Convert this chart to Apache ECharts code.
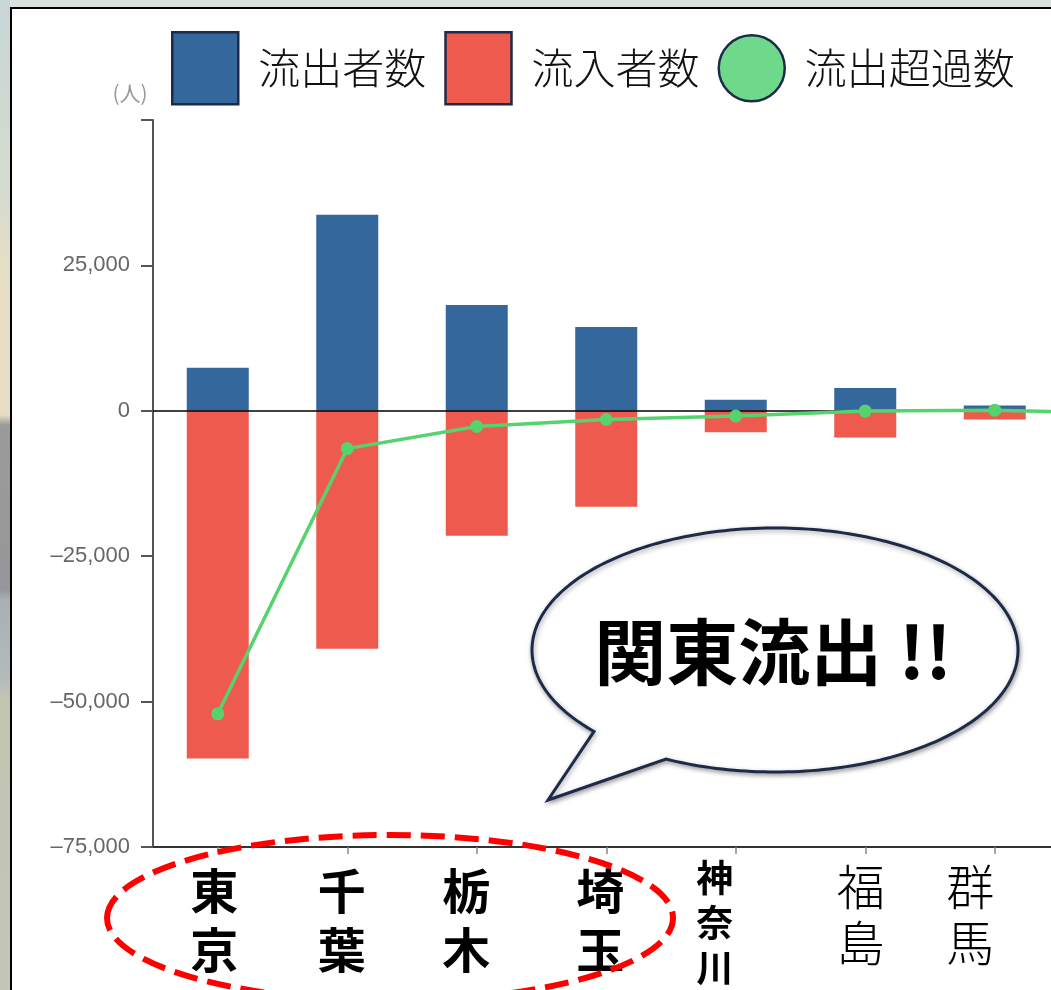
<!DOCTYPE html>
<html><head><meta charset="utf-8">
<script src="https://cdn.jsdelivr.net/npm/echarts@6/dist/echarts.min.js"></script>
<style>
html,body{margin:0;padding:0;width:1051px;height:990px;overflow:hidden;position:relative;}
#bg{position:absolute;left:0;top:0;width:1051px;height:990px;background:#d8e0df;}
#strip{position:absolute;left:0;top:0;width:10px;height:990px;background:linear-gradient(to bottom,#c8d6d6 0px,#d6dccf 200px,#e5dec6 260px,#e6dec4 415px,#9a9b99 425px,#96979a 590px,#a8b0b2 600px,#b4bbbb 680px,#c3c5b3 700px,#c4c6b6 990px);}
#panel{position:absolute;left:10px;top:7px;width:1041px;height:983px;background:#fff;border-left:2px solid #000;border-top:2px solid #000;box-sizing:border-box;}
#chart{position:absolute;left:0;top:0;width:1200px;height:990px;}
</style></head>
<body>
<div id="bg"></div><div id="strip"></div><div id="panel"></div>
<div id="chart"></div>
<script>
// ---- data ----
const categories = ['東京', '千葉', '栃木', '埼玉', '神奈川', '福島', '群馬', ''];
const outflow = [7400, 33700, 18200, 14400, 1900, 3900, 900, null];
const inflow = [-59800, -40900, -21500, -16500, -3700, -4600, -1500, null];
const netOutflow = [-52100, -6500, -2700, -1500, -900, -50, 100, -400];
const seriesNames = ['流出者数', '流入者数', '流出超過数'];
const yMin = -75000, yMax = 50000, yStep = 25000;
const yUnit = '(人)';
const calloutText = '関東流出 !!';

// ---- styles ----
const CJK = '"Noto Sans CJK JP", "Noto Sans", sans-serif';
const BLUE = '#34679b', RED = '#ee5b4e', GREEN = '#56d26e', NAVY = '#1d2b4b';
const labelStyles = {
  '東京': {fontSize: 48, fontWeight: 'bold', lineHeight: 58.5, padding: [7, 7, 0, 0]},
  '千葉': {fontSize: 48, fontWeight: 'bold', lineHeight: 58.5, padding: [7, 11, 0, 0]},
  '栃木': {fontSize: 48, fontWeight: 'bold', lineHeight: 58.5, padding: [7, 21, 0, 0]},
  '埼玉': {fontSize: 48, fontWeight: 'bold', lineHeight: 58.5, padding: [7, 12, 0, 0]},
  '神奈川': {fontSize: 37, fontWeight: 'bold', lineHeight: 45, padding: [0, 42, 0, 0]},
  '福島': {fontSize: 48, fontWeight: 300, lineHeight: 56, padding: [4, 9, 0, 0]},
  '群馬': {fontSize: 48, fontWeight: 300, lineHeight: 56, padding: [4, 49, 0, 0]},
  '': {fontSize: 48}
};

// speech bubble outline (annotation shape)
function bubblePoints(cx, cy, rx, ry, aStart, aEnd, tip) {
  const pts = [];
  const n = 240;
  for (let i = 0; i <= n; i++) {
    const a = aStart + (aEnd - aStart) * i / n;
    pts.push([cx + rx * Math.cos(a), cy + ry * Math.sin(a)]);
  }
  pts.push(tip);
  return pts;
}
const bcx = 775, bcy = 650, brx = 243, bry = 122;
const aR = Math.atan2(108 / bry, -108 / brx);
const aL = Math.atan2(81 / bry, -180 / brx) - 2 * Math.PI;

const chart = echarts.init(document.getElementById('chart'), null, {renderer: 'canvas'});
chart.setOption({
  backgroundColor: 'transparent',
  animation: false,
  legend: {
    left: 166, top: 26,
    itemWidth: 66, itemHeight: 72, itemGap: 18,
    selectedMode: false,
    textStyle: {fontFamily: CJK, fontSize: 42, color: '#111', fontWeight: 300, padding: [0, 0, 0, 15]},
    data: [
      {name: seriesNames[0], icon: 'rect', itemStyle: {color: BLUE, borderColor: NAVY, borderWidth: 2.5}},
      {name: seriesNames[1], icon: 'rect', itemStyle: {color: RED, borderColor: NAVY, borderWidth: 2.5}},
      {name: seriesNames[2], icon: 'circle', itemStyle: {color: '#6fd98b', borderColor: NAVY, borderWidth: 2.5}}
    ]
  },
  grid: {left: 153, top: 120, bottom: 142, width: 1036, containLabel: false},
  xAxis: {
    type: 'category',
    data: categories.map(c => ({value: c, textStyle: Object.assign({fontFamily: CJK, color: '#000'}, labelStyles[c])})),
    axisLine: {onZero: false, lineStyle: {color: '#333', width: 2}},
    axisTick: {show: true, alignWithLabel: true, length: 7, lineStyle: {color: '#888', width: 1.5}},
    axisLabel: {margin: 8, interval: 0, formatter: v => v.split('').join('\n')}
  },
  yAxis: {
    type: 'value', min: yMin, max: yMax, interval: yStep,
    name: yUnit, nameLocation: 'end', nameGap: 16,
    nameTextStyle: {fontFamily: CJK, fontSize: 21, color: '#999', padding: [0, 46, 0, 0]},
    axisLine: {show: true, lineStyle: {color: '#555', width: 2}},
    axisTick: {show: true, length: 12, lineStyle: {color: '#555', width: 2}},
    splitLine: {show: false},
    axisLabel: {
      margin: 23, fontFamily: '"Liberation Sans", Arial, sans-serif', fontSize: 22, color: '#666',
      formatter: v => v === yMax ? '' : (v < 0 ? '\u2013' : '') + Math.abs(v).toLocaleString('en-US')
    }
  },
  series: [
    {
      name: seriesNames[0], type: 'bar', stack: 'flow', data: outflow, barWidth: 62,
      itemStyle: {color: BLUE},
      markLine: {
        silent: true, symbol: 'none', label: {show: false},
        lineStyle: {color: '#000', width: 1.6, type: 'solid'},
        data: [{yAxis: 0}]
      }
    },
    {
      name: seriesNames[1], type: 'bar', stack: 'flow', data: inflow, barWidth: 62,
      itemStyle: {color: RED}
    },
    {
      name: seriesNames[2], type: 'line', data: netOutflow, z: 5,
      symbol: 'circle', symbolSize: 13,
      itemStyle: {color: GREEN},
      lineStyle: {color: GREEN, width: 3.5}
    }
  ],
  graphic: [
    {
      type: 'ellipse', z: 100,
      shape: {cx: 390, cy: 918, rx: 283, ry: 83},
      style: {fill: 'none', stroke: '#ff0000', lineWidth: 6, lineDash: [24, 10]}
    },
    {
      type: 'polygon', z: 100,
      shape: {points: bubblePoints(bcx, bcy, brx, bry, aR, aL, [548, 800])},
      style: {fill: '#fff', stroke: NAVY, lineWidth: 3, shadowBlur: 5, shadowColor: 'rgba(0,0,0,0.35)', shadowOffsetX: 1, shadowOffsetY: 2}
    },
    {
      type: 'text', z: 101, x: 773, y: 652,
      style: {text: calloutText, font: 'bold 72px ' + CJK, fill: '#000', align: 'center', verticalAlign: 'middle'}
    }
  ]
});
</script>
</body></html>
